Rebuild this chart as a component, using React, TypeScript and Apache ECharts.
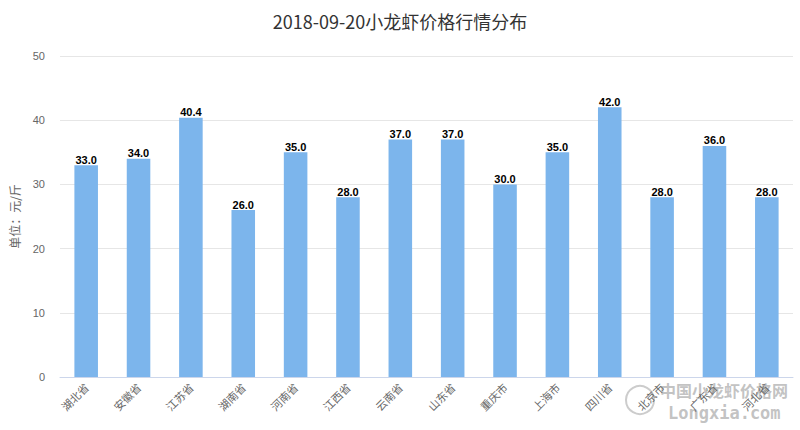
import React, { useEffect, useRef } from "react";
import * as echarts from "echarts";

const titleText = "2018-09-20小龙虾价格行情分布";
const categories = ["湖北省", "安徽省", "江苏省", "湖南省", "河南省", "江西省", "云南省", "山东省", "重庆市", "上海市", "四川省", "北京市", "广东省", "河北省"];
const prices = [33, 34, 40.4, 26, 35, 28, 37, 37, 30, 35, 42, 28, 36, 28];
const yAxisName = "单位：元/斤";
const watermarkCn = "中国小龙虾价格网";
const watermarkEn = "Longxia.com";

export default function App() {
  const ref = useRef<HTMLDivElement>(null);
  useEffect(() => {
    const chart = echarts.init(ref.current!, null, { renderer: "svg" });
    chart.setOption({
      animation: false,
      title: {
        text: titleText,
        left: "center",
        top: 7,
        textStyle: { fontSize: 18, fontWeight: "normal", color: "#333", fontFamily: "Noto Sans CJK SC, sans-serif" },
      },
      grid: { left: 52, right: 7, top: 56, bottom: 53 },
      xAxis: {
        type: "category",
        data: categories,
        axisLine: { lineStyle: { color: "#ccd6eb" } },
        axisTick: { lineStyle: { color: "#ccd6eb" }, length: 10 },
        axisLabel: { rotate: 45, color: "#666", fontSize: 11, margin: 8, fontFamily: "Noto Sans CJK SC, sans-serif" },
      },
      yAxis: {
        type: "value",
        min: 0,
        max: 50,
        interval: 10,
        name: yAxisName,
        nameLocation: "middle",
        nameGap: 40,
        nameTextStyle: { color: "#666", fontSize: 12, fontFamily: "Noto Sans CJK SC, sans-serif" },
        axisLine: { show: false },
        axisTick: { show: false },
        axisLabel: { color: "#666", fontSize: 11, margin: 15 },
        splitLine: { lineStyle: { color: "#e6e6e6" } },
      },
      series: [
        {
          type: "bar",
          data: prices,
          barWidth: "45%",
          itemStyle: { color: "#7cb5ec" },
          label: {
            show: true,
            position: "top",
            distance: 0,
            formatter: (p: any) => Number(p.value).toFixed(1),
            color: "#000",
            fontSize: 11,
            fontWeight: "bold",
            textBorderColor: "#fff",
            textBorderWidth: 2,
          },
        },
      ],
      graphic: [
        {
          type: "text",
          left: 660,
          top: 382,
          style: { text: watermarkCn, fill: "#bbb", font: "bold 16px Noto Sans CJK SC, sans-serif", opacity: 0.9 },
        },
        {
          type: "text",
          left: 668,
          top: 404,
          style: { text: watermarkEn, fill: "#bbb", font: "bold 17px DejaVu Sans Mono, monospace", opacity: 0.9 },
        },
        {
          type: "circle",
          shape: { cx: 640, cy: 400, r: 14 },
          style: { fill: "none", stroke: "#ccc", lineWidth: 2 },
        },
      ],
    });
    return () => chart.dispose();
  }, []);
  return <div ref={ref} style={{ position: "absolute", left: 0, top: 0, width: 800, height: 430 }} />;
}
